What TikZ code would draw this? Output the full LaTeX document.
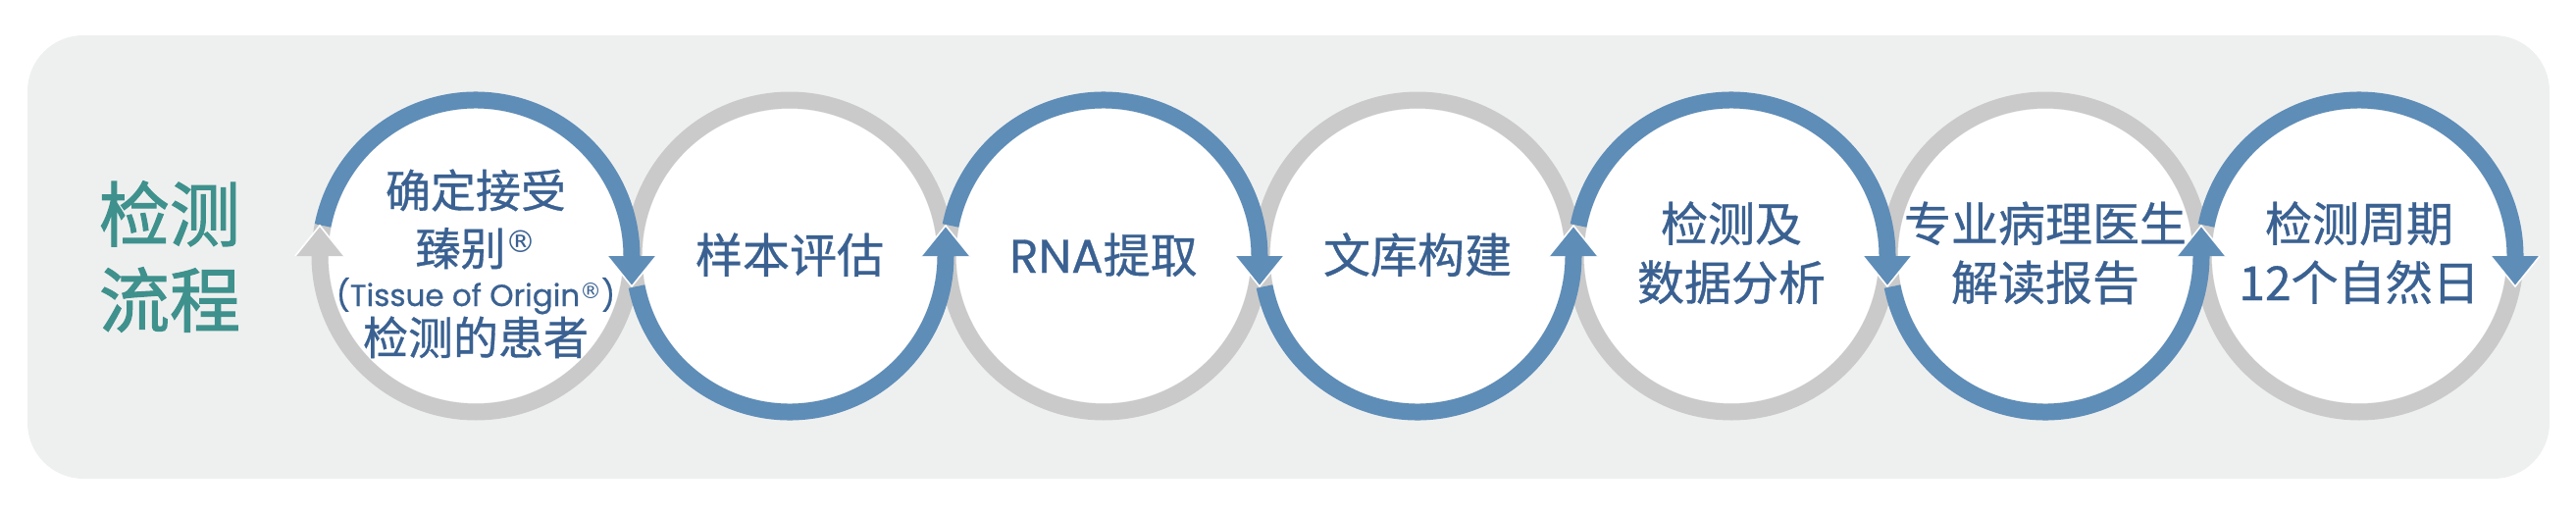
\documentclass[tikz,border=0pt]{standalone}
\usepackage{fontspec}
\setmainfont{Noto Sans CJK SC}
\newfontfamily\cjk[FakeBold=0.7]{Noto Sans CJK SC}
\newfontfamily\cjkt[FakeBold=1.6]{Noto Sans CJK SC}
\newfontfamily\lat[FakeBold=0.6]{Poppins}
\newfontfamily\symf{DejaVu Sans}
\usetikzlibrary{calc}
\definecolor{bgc}{HTML}{EEF0EF}
\definecolor{ringb}{HTML}{5E8DB8}
\definecolor{ringg}{HTML}{CACACA}
\definecolor{txtb}{HTML}{3A6191}
\definecolor{ttlc}{HTML}{3F918D}
\begin{document}
\begin{tikzpicture}[x=1pt,y=-1pt,
  disc/.style={circle, fill=white, minimum size=300pt, inner sep=0pt},
  gring/.style={draw=ringg, line width=17pt},
  bring/.style={draw=ringb, line width=17pt},
  ahb/.style={fill=ringb},
  ahg/.style={fill=ringg},
  ahedge/.style={draw=white, line width=1.6pt, line join=miter},
  lbl/.style={text=txtb, inner sep=0pt, anchor=base, font=\cjk\fontsize{48}{48}\selectfont},
  lblone/.style={text=txtb, inner sep=0pt, anchor=base, font=\cjk\fontsize{46}{46}\selectfont},
  ttl/.style={text=ttlc, inner sep=0pt, anchor=base, font=\cjkt\fontsize{72}{72}\selectfont},
]
\useasboundingbox (0,0) rectangle (2626,522);
\fill[bgc, rounded corners=57pt] (28,36) rectangle (2599,488);

% title
\node[ttl] (title1) at (173,245.5) {检测};
\node[ttl] (title2) at (173,333) {流程};

% discs
\foreach \i in {1,...,7} {
  \node[disc] (c\i) at ({485+320*(\i-1)},261) {};
}

% gray rings
\foreach \i in {1,3,5,7} {
  \draw[gring] (c\i.center) ++(0:159) arc[start angle=0, end angle=191.25, radius=159];
}
\foreach \i in {2,4,6} {
  \draw[gring] (c\i.center) ++(168.75:159) arc[start angle=168.75, end angle=360, radius=159];
}

% blue snake
\foreach \i in {1,3,5,7} {
  \draw[bring] (c\i.center) ++(191.25:159) arc[start angle=191.25, end angle=360, radius=159];
}
\foreach \i in {2,4,6} {
  \draw[bring] (c\i.center) ++(168.75:159) arc[start angle=168.75, end angle=0, radius=159];
}

% arrowheads
\fill[ahg] (c1.center) ++(-159,-31) -- ++(-25,31) -- ++(50,0) -- cycle;
\draw[ahedge] (c1.center) ++(-184,0) -- ++(25,-31) -- ++(25,31);
\foreach \i in {1,3,5,7} {
  \fill[ahb] (c\i.center) ++(159,31) -- ++(-25,-31) -- ++(50,0) -- cycle;
  \draw[ahedge] (c\i.center) ++(134,0) -- ++(25,31) -- ++(25,-31);
}
\foreach \i in {2,4,6} {
  \fill[ahb] (c\i.center) ++(159,-31) -- ++(-25,31) -- ++(50,0) -- cycle;
  \draw[ahedge] (c\i.center) ++(134,0) -- ++(25,-31) -- ++(25,31);
}

% texts
\node[lblone] (t1a) at ($(c1.center)+(0,-49.5)$) {确定接受};
\node[lblone] (t1b) at ($(c1.center)+(0,9.5)$) {臻别\raisebox{13pt}{\symf\fontsize{31}{31}\selectfont ®}};
\node[lblone] (t1c) at ($(c1.center)+(0,51)$) {\lat\fontsize{31}{31}\selectfont (Tissue of Origin\raisebox{8pt}{\symf\fontsize{22}{22}\selectfont ®})};
\node[lblone] (t1d) at ($(c1.center)+(0,100.5)$) {检测的患者};

\node[lbl] (t2) at ($(c2.center)+(0,17)$) {样本评估};
\node[lbl] (t3) at ($(c3.center)+(0,17)$) {{\lat RNA}提取};
\node[lbl] (t4) at ($(c4.center)+(0,17)$) {文库构建};
\node[lbl] (t5a) at ($(c5.center)+(0,-15)$) {检测及};
\node[lbl] (t5b) at ($(c5.center)+(0,45)$) {数据分析};
\node[lbl] (t6a) at ($(c6.center)+(0,-15)$) {专业病理医生};
\node[lbl] (t6b) at ($(c6.center)+(0,45)$) {解读报告};
\node[lbl] (t7a) at ($(c7.center)+(0,-15)$) {检测周期};
\node[lbl] (t7b) at ($(c7.center)+(0,45)$) {12个自然日};
\end{tikzpicture}
\end{document}
